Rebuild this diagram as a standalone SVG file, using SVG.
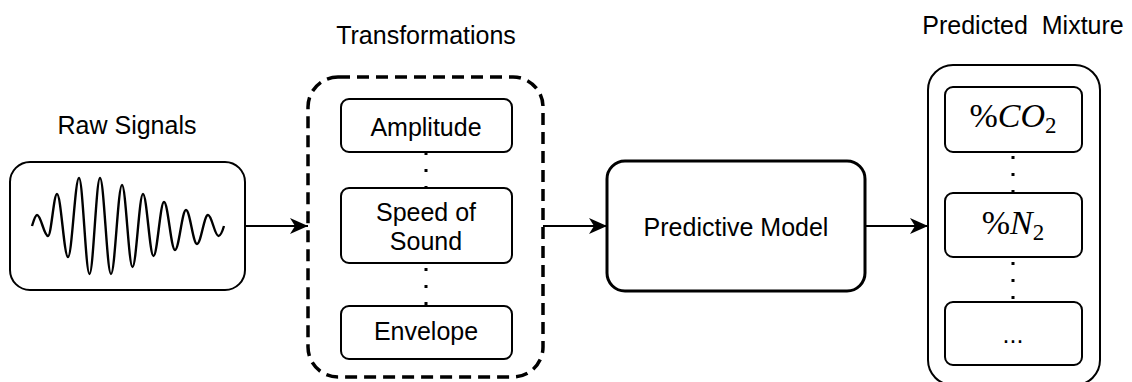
<svg xmlns="http://www.w3.org/2000/svg" width="1132" height="382" viewBox="0 0 1132 382">
<style>
.lbl{font-family:"Liberation Sans",Arial,Helvetica,sans-serif;font-size:25px;fill:#000;text-anchor:middle;white-space:pre}
.math{font-family:"Liberation Serif","Times New Roman",serif;font-size:34px;fill:#000}
.box{fill:#fff;stroke:#000;stroke-width:2}
.dot{stroke:#000;stroke-width:3;stroke-dasharray:3 14;fill:none}
.arr{stroke:#000;stroke-width:2;fill:none;marker-end:url(#ah)}
</style>
<defs>
<marker id="ah" viewBox="0 0 18 16" refX="18" refY="8" markerWidth="18" markerHeight="16" markerUnits="userSpaceOnUse" orient="auto">
<path d="M0,0 L18,8 L0,16 L5,8 Z" fill="#000"/>
</marker>
</defs>
<rect width="1132" height="382" fill="#fff"/>
<g id="raw-signals">
<text class="lbl" x="127" y="134">Raw Signals</text>
<rect class="box" x="10" y="162" width="235" height="128" rx="20"/>
<path fill="none" stroke="#000" stroke-width="2.4" d="M32,226 C33.5,221 35.5,215 37,215 C41,215 44,236 48,236 C51.3,236 53.7,194 57,194 C61,194 64,257 68,257 C72,257 75,178 79,178 C82.8,178 85.7,274 89.5,274 C93.3,274 96.2,178 100,178 C104,178 107,274 111,274 C115,274 118,185 122,185 C125.8,185 128.7,267 132.5,267 C136.3,267 139.2,194 143,194 C146.8,194 149.7,256 153.5,256 C157.3,256 160.2,202 164,202 C168,202 171,250 175,250 C179,250 182,210 186,210 C190,210 193,244 197,244 C201,244 204,215 208,215 C211.8,215 214.7,236 218.5,236 C220.5,236 222.5,231 224,226"/>
</g>
<g id="transformations">
<text class="lbl" x="426" y="44">Transformations</text>
<rect x="308" y="77" width="235" height="300" rx="30" fill="none" stroke="#000" stroke-width="3.5" stroke-dasharray="12 7"/>
</g>
<g id="amplitude">
<rect class="box" x="341" y="99" width="171" height="53" rx="8"/>
<text class="lbl" x="426" y="136">Amplitude</text>
</g>
<g id="speed-of-sound">
<rect class="box" x="341" y="188" width="171" height="75" rx="8"/>
<text class="lbl" x="426" y="221">Speed of</text>
<text class="lbl" x="426" y="250">Sound</text>
</g>
<g id="envelope">
<rect class="box" x="341" y="306" width="171" height="53" rx="8"/>
<text class="lbl" x="426" y="340">Envelope</text>
</g>
<g id="predictive-model">
<rect x="607" y="161" width="258" height="130" rx="18" fill="#fff" stroke="#000" stroke-width="3"/>
<text class="lbl" x="736" y="236">Predictive Model</text>
</g>
<g id="predicted-mixture">
<text class="lbl" x="1023" y="34">Predicted  Mixture</text>
<rect class="box" x="928" y="65" width="172" height="320" rx="25"/>
</g>
<g id="co2">
<rect class="box" x="945" y="87" width="137" height="65" rx="8"/>
<text class="math" x="1013" y="127" text-anchor="middle">%<tspan font-style="italic">CO</tspan><tspan font-size="23" dy="6">2</tspan></text>
</g>
<g id="n2">
<rect class="box" x="945" y="193" width="137" height="64" rx="8"/>
<text class="math" x="1013" y="234" text-anchor="middle">%<tspan font-style="italic">N</tspan><tspan font-size="23" dy="6">2</tspan></text>
</g>
<g id="more">
<rect class="box" x="945" y="302" width="137" height="63" rx="8"/>
<text class="lbl" x="1013" y="343">...</text>
</g>
<g id="connectors">
<line class="arr" x1="245" y1="226" x2="308" y2="226"/>
<line class="arr" x1="543" y1="226" x2="607" y2="226"/>
<line class="arr" x1="865" y1="226" x2="928" y2="226"/>
<line class="dot" x1="426" y1="152" x2="426" y2="188"/>
<line class="dot" x1="426" y1="268" x2="426" y2="306"/>
<line class="dot" x1="1013" y1="156" x2="1013" y2="193"/>
<line class="dot" x1="1013" y1="262" x2="1013" y2="302"/>
</g>
</svg>
